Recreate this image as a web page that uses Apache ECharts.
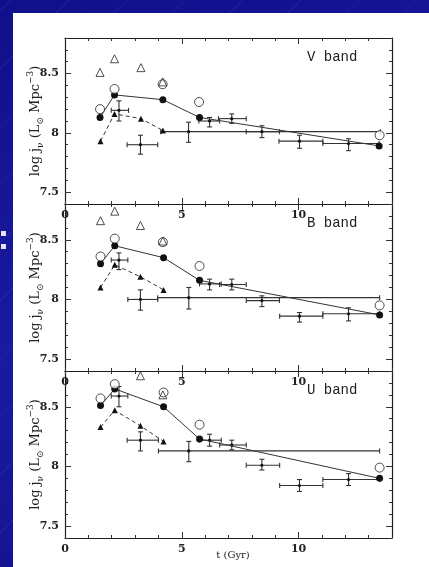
<!DOCTYPE html>
<html><head><meta charset="utf-8">
<script src="https://cdn.jsdelivr.net/npm/echarts@6/dist/echarts.min.js"></script>
<style>
html,body{margin:0;padding:0;width:429px;height:567px;overflow:hidden;}
body{background:linear-gradient(160deg,#10108c 0%,#1a1aa0 50%,#10108a 100%);position:relative;}
#streaks{position:absolute;left:0;top:0;width:429px;height:567px;background:repeating-linear-gradient(-45deg, rgba(255,255,255,0) 0 40px, rgba(130,150,255,0.12) 40px 41px);}
#paper{position:absolute;left:13px;top:13px;width:416px;height:554px;background:#fff;}
.bul{position:absolute;left:1px;width:5px;height:5px;background:#e4e4ee;}
#chart{position:absolute;left:0;top:0;width:429px;height:567px;}
</style></head>
<body>
<div id="streaks"></div><div id="paper"></div>
<div class="bul" style="top:231px"></div><div class="bul" style="top:244px"></div>
<div id="chart"></div>
<script>
// ---- data ----
const bandNames = ['V band', 'B band', 'U band'];
const xTickLabels = [0, 5, 10];
const yTickLabels = [7.5, 8, 8.5];
const xMajorTicks = [5, 10];

// V band
const vOpenTri = [[1.50, 8.51], [2.12, 8.625], [3.25, 8.55], [4.18, 8.43]];
const vOpenCirc = [[1.50, 8.20], [2.12, 8.37], [4.18, 8.41], [5.74, 8.26], [13.47, 7.98]];
const vFilledCirc = [[1.50, 8.13], [2.12, 8.32], [4.19, 8.28], [5.76, 8.13], [13.45, 7.89]];
const vFilledTri = [[1.52, 7.93], [2.12, 8.16], [3.25, 8.12], [4.19, 8.02]];
// [x, y, xLow, xHigh, yLow, yHigh]
const vErr = [
  [2.31, 8.19, 1.98, 2.72, 8.10, 8.27],
  [3.23, 7.90, 2.66, 3.97, 7.82, 7.98],
  [5.29, 8.01, 4.10, 13.50, 7.92, 8.09],
  [6.19, 8.10, 5.73, 6.62, 8.05, 8.13],
  [7.14, 8.12, 6.57, 7.76, 8.08, 8.16],
  [8.43, 8.01, 7.76, 9.18, 7.96, 8.06],
  [10.04, 7.93, 9.16, 11.04, 7.87, 7.98],
  [12.14, 7.91, 11.04, 13.45, 7.85, 7.95]
];

// B band
const bOpenTri = [[1.52, 8.66], [2.13, 8.74], [3.23, 8.62], [4.19, 8.49]];
const bOpenCirc = [[1.52, 8.36], [2.13, 8.51], [4.19, 8.48], [5.76, 8.28], [13.47, 7.95]];
const bFilledCirc = [[1.52, 8.30], [2.13, 8.45], [4.22, 8.35], [5.76, 8.16], [13.47, 7.87]];
const bFilledTri = [[1.52, 8.10], [2.13, 8.29], [3.23, 8.19], [4.22, 8.08]];
const bErr = [
  [2.31, 8.33, 1.98, 2.69, 8.25, 8.39],
  [3.23, 8.00, 2.69, 3.97, 7.91, 8.08],
  [5.30, 8.015, 3.97, 13.47, 7.92, 8.10],
  [6.19, 8.13, 5.76, 6.69, 8.08, 8.17],
  [7.14, 8.125, 6.62, 7.76, 8.08, 8.17],
  [8.43, 7.99, 7.76, 9.18, 7.94, 8.03],
  [10.04, 7.86, 9.19, 11.04, 7.81, 7.89],
  [12.14, 7.88, 11.04, 13.47, 7.82, 7.93]
];

// U band
const uOpenTri = [[3.23, 8.76], [4.19, 8.60]];
const uOpenCirc = [[1.52, 8.57], [2.13, 8.69], [4.22, 8.62], [5.76, 8.35], [13.47, 7.99]];
const uFilledCirc = [[1.52, 8.51], [2.13, 8.65], [4.22, 8.50], [5.76, 8.23], [13.47, 7.90]];
const uFilledTri = [[1.52, 8.33], [2.13, 8.47], [3.23, 8.34], [4.22, 8.21]];
const uErr = [
  [2.31, 8.59, 1.98, 2.69, 8.50, 8.67],
  [3.23, 8.22, 2.66, 4.00, 8.13, 8.29],
  [5.30, 8.13, 4.00, 13.47, 8.04, 8.21],
  [6.19, 8.22, 5.76, 6.69, 8.17, 8.27],
  [7.14, 8.18, 6.62, 7.76, 8.14, 8.22],
  [8.43, 8.01, 7.76, 9.19, 7.97, 8.06],
  [10.04, 7.84, 9.19, 11.04, 7.79, 7.89],
  [12.14, 7.89, 11.04, 13.47, 7.84, 7.94]
];

const panels = [
  {openTri: vOpenTri, openCirc: vOpenCirc, filledCirc: vFilledCirc, filledTri: vFilledTri, err: vErr},
  {openTri: bOpenTri, openCirc: bOpenCirc, filledCirc: bFilledCirc, filledTri: bFilledTri, err: bErr},
  {openTri: uOpenTri, openCirc: uOpenCirc, filledCirc: uFilledCirc, filledTri: uFilledTri, err: uErr}
];

// ---- layout / style ----
const panelRects = [{top: 38, height: 166}, {top: 204, height: 167}, {top: 371, height: 167}];
const LEFT = 65, WIDTH = 327;
const INK = '#1e1e1e';
const LABEL_FONT = 'DejaVu Serif';

const chart = echarts.init(document.getElementById('chart'), null, {renderer: 'canvas'});

const grid = [], xAxis = [], yAxis = [], series = [], graphic = [];

function isLabel(v, arr) { return arr.some(a => Math.abs(a - v) < 1e-6); }

function errRender(params, api) {
  const x = api.value(0), y = api.value(1);
  const l = api.coord([api.value(2), y]), r = api.coord([api.value(3), y]);
  const b = api.coord([x, api.value(4)]), t = api.coord([x, api.value(5)]);
  const c = api.coord([x, y]);
  const cap = 2.5;
  const st = {stroke: '#333', lineWidth: 1.1};
  return {type: 'group', children: [
    {type: 'line', shape: {x1: l[0], y1: l[1], x2: r[0], y2: r[1]}, style: st},
    {type: 'line', shape: {x1: l[0], y1: l[1] - cap, x2: l[0], y2: l[1] + cap}, style: st},
    {type: 'line', shape: {x1: r[0], y1: r[1] - cap, x2: r[0], y2: r[1] + cap}, style: st},
    {type: 'line', shape: {x1: b[0], y1: b[1], x2: t[0], y2: t[1]}, style: st},
    {type: 'line', shape: {x1: b[0] - cap, y1: b[1], x2: b[0] + cap, y2: b[1]}, style: st},
    {type: 'line', shape: {x1: t[0] - cap, y1: t[1], x2: t[0] + cap, y2: t[1]}, style: st},
    {type: 'circle', shape: {cx: c[0], cy: c[1], r: 1.6}, style: {fill: '#111'}}
  ]};
}

panelRects.forEach((rect, i) => {
  const gMinor = 2 * i, gMajor = 2 * i + 1;
  grid.push({left: LEFT, width: WIDTH, top: rect.top, height: rect.height, containLabel: false});
  grid.push({left: LEFT, width: WIDTH, top: rect.top, height: rect.height, containLabel: false});
  const xBase = {type: 'value', min: 0, max: 14, splitLine: {show: false}};
  const yBase = {type: 'value', min: 7.4, max: 8.8, splitLine: {show: false}};
  const xi = xAxis.length, yi = yAxis.length;
  xAxis.push(Object.assign({}, xBase, {gridIndex: gMinor, position: 'bottom', interval: 1,
    axisLine: {show: true, onZero: false, lineStyle: {color: INK, width: 1.2}},
    axisTick: {show: true, inside: true, length: 3, lineStyle: {color: '#333'}},
    axisLabel: {show: true, margin: 6, fontFamily: LABEL_FONT, fontSize: 11, fontWeight: 'bold', color: '#222',
      formatter: v => isLabel(v, xTickLabels) ? String(v) : ''}}));
  xAxis.push(Object.assign({}, xBase, {gridIndex: gMinor, position: 'top', interval: 1,
    axisLine: {show: true, onZero: false, lineStyle: {color: INK, width: 1.2}},
    axisTick: {show: true, inside: true, length: 3, lineStyle: {color: '#333'}},
    axisLabel: {show: false}}));
  yAxis.push(Object.assign({}, yBase, {gridIndex: gMinor, position: 'left', interval: 0.1,
    axisLine: {show: true, onZero: false, lineStyle: {color: INK, width: 1.2}},
    axisTick: {show: true, inside: true, length: 3, lineStyle: {color: '#333'}},
    axisLabel: {show: true, margin: 6, fontFamily: LABEL_FONT, fontSize: 11, fontWeight: 'bold', color: '#222',
      formatter: v => isLabel(v, yTickLabels) ? String(Math.round(v * 10) / 10) : ''}}));
  yAxis.push(Object.assign({}, yBase, {gridIndex: gMinor, position: 'right', interval: 0.1,
    axisLine: {show: true, onZero: false, lineStyle: {color: INK, width: 1.2}},
    axisTick: {show: true, inside: true, length: 3, lineStyle: {color: '#333'}},
    axisLabel: {show: false}}));
  xAxis.push(Object.assign({}, xBase, {gridIndex: gMajor, position: 'bottom', interval: 5,
    axisLine: {show: false, onZero: false}, axisLabel: {show: false},
    axisTick: {show: true, inside: true, length: 6, customValues: xMajorTicks, lineStyle: {color: '#333'}}}));
  xAxis.push(Object.assign({}, xBase, {gridIndex: gMajor, position: 'top', interval: 5,
    axisLine: {show: false, onZero: false}, axisLabel: {show: false},
    axisTick: {show: true, inside: true, length: 6, customValues: xMajorTicks, lineStyle: {color: '#333'}}}));
  yAxis.push(Object.assign({}, yBase, {gridIndex: gMajor, position: 'left',
    axisLine: {show: false, onZero: false}, axisLabel: {show: false},
    axisTick: {show: true, inside: true, length: 6, customValues: yTickLabels, lineStyle: {color: '#333'}}}));
  yAxis.push(Object.assign({}, yBase, {gridIndex: gMajor, position: 'right',
    axisLine: {show: false, onZero: false}, axisLabel: {show: false},
    axisTick: {show: true, inside: true, length: 6, customValues: yTickLabels, lineStyle: {color: '#333'}}}));

  const p = panels[i];
  const ax = {xAxisIndex: xi, yAxisIndex: yi};
  series.push(Object.assign({type: 'custom', renderItem: errRender, data: p.err,
    encode: {x: [0, 2, 3], y: [1, 4, 5]}, z: 3, silent: true}, ax));
  series.push(Object.assign({type: 'line', data: p.filledTri, symbol: 'triangle', symbolSize: 6,
    itemStyle: {color: '#111'}, lineStyle: {color: '#333', width: 1, type: [4, 3]}, z: 4, animation: false}, ax));
  series.push(Object.assign({type: 'line', data: p.filledCirc, symbol: 'circle', symbolSize: 7,
    itemStyle: {color: '#111'}, lineStyle: {color: '#333', width: 1}, z: 4, animation: false}, ax));
  series.push(Object.assign({type: 'scatter', data: p.openCirc, symbol: 'circle', symbolSize: 9,
    itemStyle: {color: '#fff', borderColor: '#222', borderWidth: 1}, z: 5, animation: false}, ax));
  series.push(Object.assign({type: 'scatter', data: p.openTri, symbol: 'triangle', symbolSize: 8,
    itemStyle: {color: 'rgba(255,255,255,0)', borderColor: '#222', borderWidth: 1}, z: 6, animation: false}, ax));

  graphic.push({type: 'text', x: 307, y: rect.top + 19, z: 10,
    style: {text: bandNames[i], font: '14px "Liberation Mono"', fill: '#222', align: 'left', verticalAlign: 'middle'}});
  graphic.push({type: 'text', x: 36, y: rect.top + rect.height / 2, rotation: Math.PI / 2, z: 10,
    style: {text: '{n|log j}{s|ν}{n| (L}{s|⊙}{n| Mpc}{p|−3}{n|)}', align: 'center', verticalAlign: 'middle',
      rich: {
        n: {fontSize: 13, fontFamily: LABEL_FONT, fill: '#222', verticalAlign: 'middle', lineHeight: 19},
        s: {fontSize: 9, fontFamily: LABEL_FONT, fill: '#222', verticalAlign: 'bottom', lineHeight: 19},
        p: {fontSize: 9, fontFamily: LABEL_FONT, fill: '#222', verticalAlign: 'top', lineHeight: 19}
      }}});
});

graphic.push({type: 'text', x: 233, y: 555, z: 10,
  style: {text: 't (Gyr)', font: '10px "DejaVu Serif"', fill: '#222', align: 'center', verticalAlign: 'middle'}});

chart.setOption({
  animation: false,
  backgroundColor: 'transparent',
  grid, xAxis, yAxis, series, graphic
});
</script>
</body></html>
